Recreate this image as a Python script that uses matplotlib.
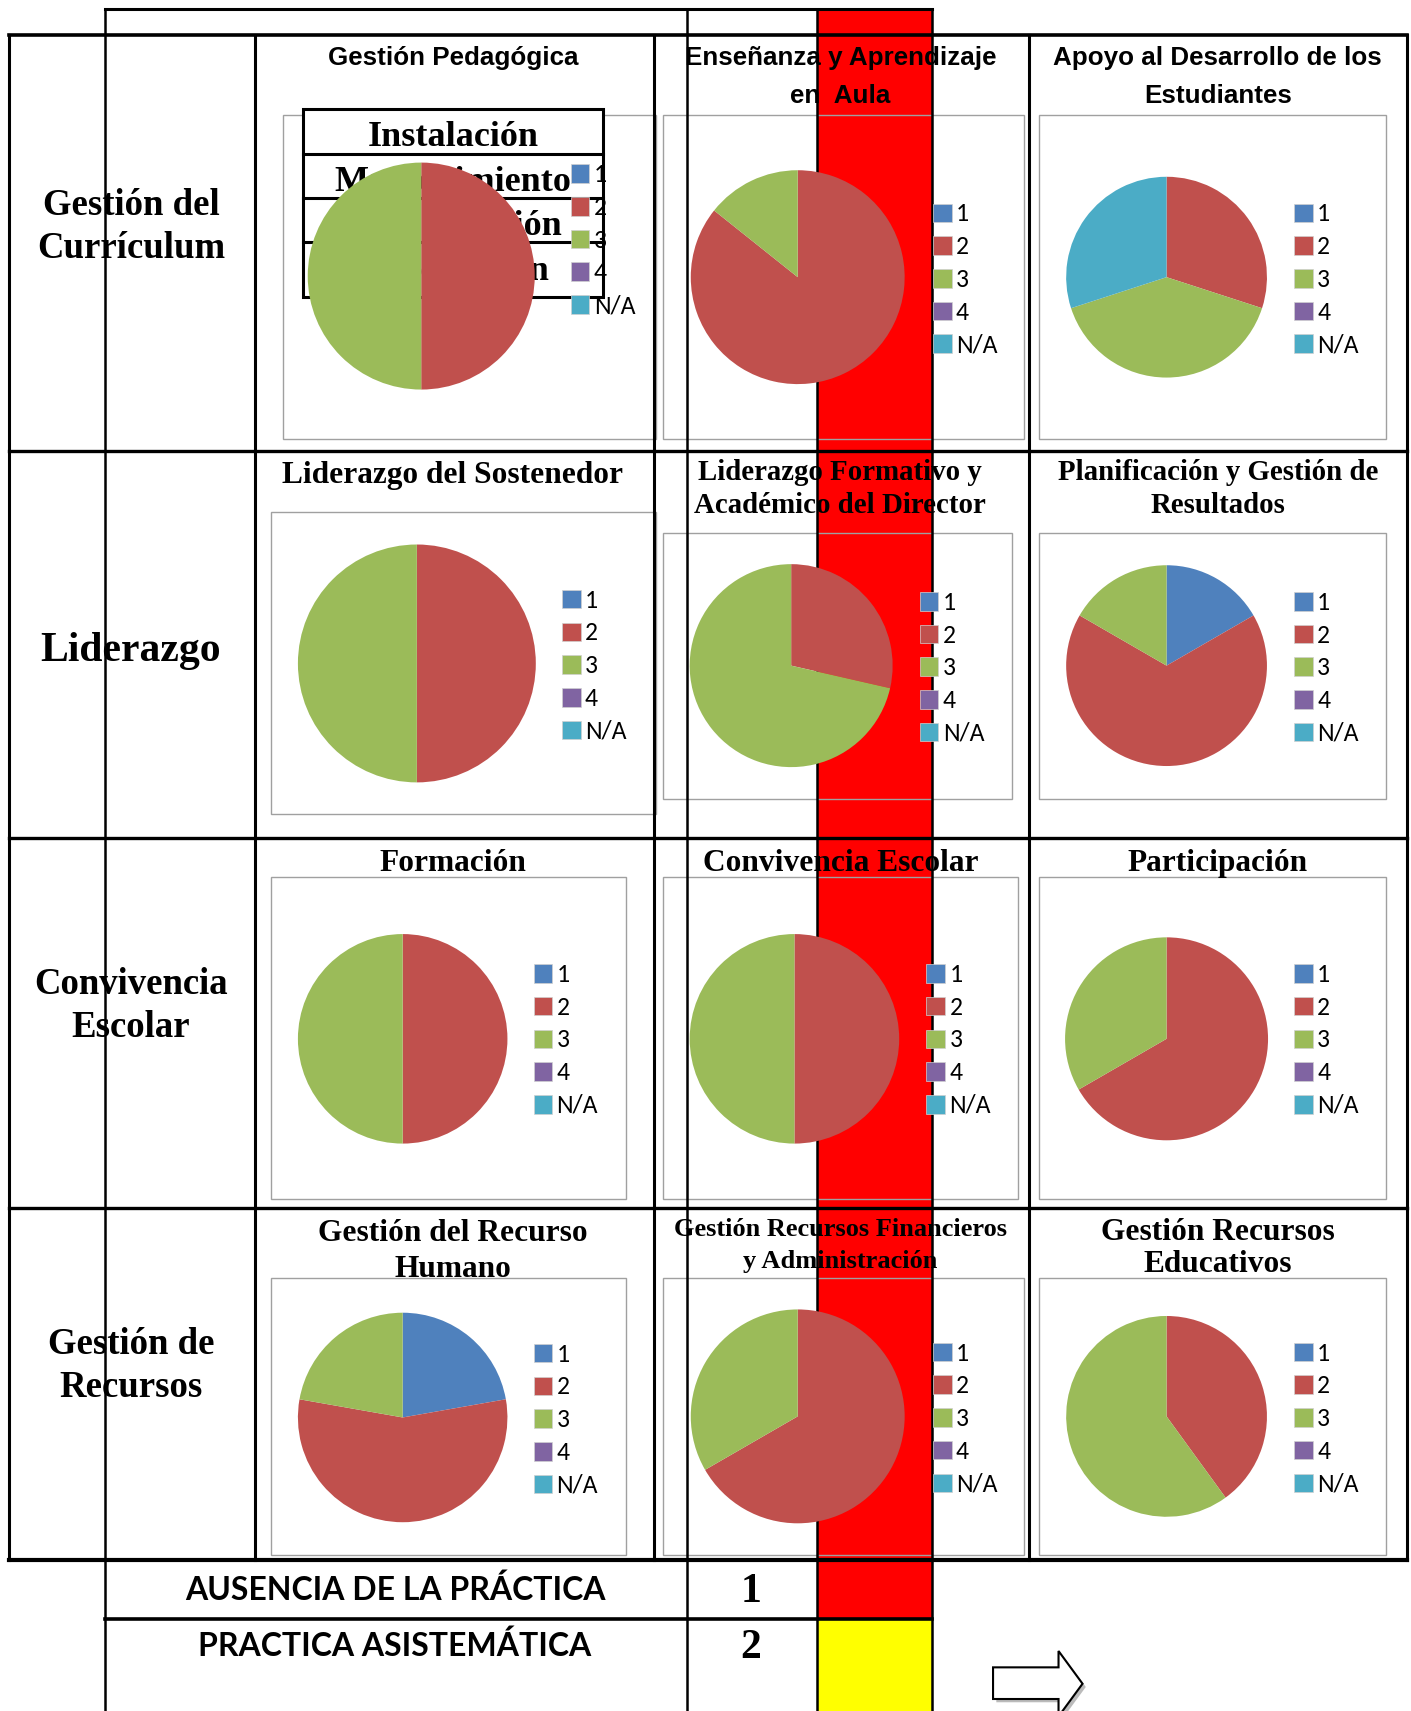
import matplotlib
matplotlib.use('Agg')
import matplotlib.pyplot as plt
from matplotlib.patches import Rectangle, Polygon
from matplotlib import font_manager

# ---------------- data ----------------
categories = ['1', '2', '3', '4', 'N/A']
colors = ['#4F81BD', '#C0504D', '#9BBB59', '#8064A2', '#4BACC6']

row_labels = ['Gestión del\nCurrículum', 'Liderazgo', 'Convivencia\nEscolar', 'Gestión de\nRecursos']

titles_row1 = ['Gestión Pedagógica', 'Enseñanza y Aprendizaje\nen  Aula', 'Apoyo al Desarrollo de los\nEstudiantes']
titles_row2 = ['Liderazgo del Sostenedor', 'Liderazgo Formativo y\nAcadémico del Director', 'Planificación y Gestión de\nResultados']
titles_row3 = ['Formación', 'Convivencia Escolar', 'Participación']
titles_row4 = ['Gestión del Recurso\nHumano', 'Gestión Recursos Financieros\ny Administración', 'Gestión Recursos\nEducativos']

# counts per level (1, 2, 3, 4, N/A)
gestion_pedagogica = [0, 1, 1, 0, 0]
ensenanza_aula = [0, 6, 1, 0, 0]
apoyo_estudiantes = [0, 3, 4, 0, 3]
liderazgo_sostenedor = [0, 1, 1, 0, 0]
liderazgo_director = [0, 2, 5, 0, 0]
planificacion = [1, 4, 1, 0, 0]
formacion = [0, 1, 1, 0, 0]
convivencia = [0, 1, 1, 0, 0]
participacion = [0, 2, 1, 0, 0]
recurso_humano = [2, 5, 2, 0, 0]
recursos_financieros = [0, 2, 1, 0, 0]
recursos_educativos = [0, 2, 3, 0, 0]

table_levels = ['Instalación', 'Mantenimiento', 'Consolidación', 'Articulación']
scale_labels = ['AUSENCIA DE LA PRÁCTICA', 'PRACTICA ASISTEMÁTICA']
scale_values = ['1', '2']

# ---------------- fonts ----------------
avail = {f.name for f in font_manager.fontManager.ttflist}
NARROW = 'Liberation Sans Narrow' if 'Liberation Sans Narrow' in avail else 'Liberation Sans'
SERIF = 'Liberation Serif'
LEG = 'Carlito' if 'Carlito' in avail else 'Lato'
NARROW_SIZE = 22 if NARROW == 'Liberation Sans Narrow' else 18.7

# ---------------- layout ----------------
W, H = 1293, 1568
fig = plt.figure(figsize=(14.11, 17.11), dpi=100)
bg = fig.add_axes([0, 0, 1, 1])
bg.set_xlim(0, W)
bg.set_ylim(H, 0)
bg.axis('off')

LW = 2.2
# red / yellow column
bg.add_patch(Rectangle((749, 8), 105, 1484 - 8, facecolor='#FF0000', edgecolor='none', zorder=1))
bg.add_patch(Rectangle((749, 1484), 105, H - 1484 + 5, facecolor='#FFFF00', edgecolor='none', zorder=1))

def hline(y, x0, x1, lw=LW):
    bg.plot([x0, x1], [y, y], color='black', lw=lw, zorder=3, solid_capstyle='projecting')

def vline(x, y0, y1, lw=LW):
    bg.plot([x, x], [y0, y1], color='black', lw=lw, zorder=3, solid_capstyle='projecting')

# back table lines
hline(8, 96, 854)
for x in [96, 630, 749, 854]:
    vline(x, 8, H + 5, lw=1.8)
hline(1484, 96, 854, lw=2.6)
# main grid
hline(32, 8, 1289, lw=2.6)
hline(1430, 8, 1289, lw=3.0)
for y in [413, 768, 1107]:
    hline(y, 8, 1289, lw=2.4)
for x in [8, 234, 599, 943, 1289]:
    vline(x, 32, 1430, lw=2.2)

# row labels
row_baselines = [[197, 236], [606], [911, 950], [1241, 1280]]
for lab, bls in zip(row_labels, row_baselines):
    size = 30 if len(bls) == 1 else 26.5
    for line, b in zip(lab.split('\n'), bls):
        bg.text(120, b, line, ha='center', va='baseline', fontsize=size,
                fontweight='bold', family=SERIF, zorder=5)

# charts
all_titles = [titles_row1, titles_row2, titles_row3, titles_row4]
all_values = [
    [gestion_pedagogica, ensenanza_aula, apoyo_estudiantes],
    [liderazgo_sostenedor, liderazgo_director, planificacion],
    [formacion, convivencia, participacion],
    [recurso_humano, recursos_financieros, recursos_educativos],
]
boxes = [
    [(259, 105, 601, 402), (608, 105, 938, 402), (952, 105, 1270, 402)],
    [(248, 469, 601, 746), (608, 488, 927, 732), (952, 488, 1270, 732)],
    [(248, 804, 574, 1099), (608, 804, 933, 1099), (952, 804, 1270, 1099)],
    [(248, 1171, 574, 1425), (608, 1171, 938, 1425), (952, 1171, 1270, 1425)],
]
pies = [
    [(386, 253, 104), (731, 254, 98), (1069, 254, 92)],
    [(382, 608, 109), (725, 610, 93), (1069, 610, 92)],
    [(369, 952, 96), (728, 952, 96), (1069, 952, 93)],
    [(369, 1299, 96), (731, 1298, 98), (1069, 1298, 92)],
]
legends = [
    [(523, 159), (855, 195), (1186, 195)],
    [(515, 549), (843, 551), (1186, 551)],
    [(489, 892), (849, 892), (1186, 892)],
    [(489, 1240), (855, 1239), (1186, 1239)],
]
title_x = [415, 770, 1116]
title_base = [
    [(60, 34), (60, 34), (60, 34)],
    [(443, 30), (440, 30), (440, 30)],
    [(798, 30), (798, 30), (798, 30)],
    [(1137, 33), (1133, 29), (1136, 30)],
]

# overlay table in first chart
tx0, tx1 = 278, 553
bg.add_patch(Rectangle((tx0, 100), tx1 - tx0, 272 - 100, facecolor='white',
                       edgecolor='black', lw=2.2, zorder=4))
for y in [141, 181, 222]:
    bg.plot([tx0, tx1], [y, y], color='black', lw=2.2, zorder=4)
for lvl, b in zip(table_levels, [134, 175, 215, 257]):
    bg.text(415, b, lvl, ha='center', va='baseline', fontsize=26, fontweight='bold',
            family=SERIF, zorder=4)

for r in range(4):
    for c in range(3):
        x0, y0, x1, y1 = boxes[r][c]
        bg.add_patch(Rectangle((x0, y0), x1 - x0, y1 - y0, facecolor='none',
                               edgecolor='#A0A0A0', lw=1.0, zorder=2))
        # title
        first, step = title_base[r][c]
        lines = all_titles[r][c].split('\n')
        if r == 0:
            fam, size = NARROW, NARROW_SIZE
        else:
            fam = SERIF
            size = 19 if (r == 3 and c == 1) else (20.8 if r == 1 and c > 0 else 22.6)
        for i, line in enumerate(lines):
            bg.text(title_x[c], first + i * step, line, ha='center', va='baseline',
                    fontsize=size, fontweight='bold', family=fam, zorder=6)
        # legend
        lx, ly = legends[r][c]
        for i, (cat, col) in enumerate(zip(categories, colors)):
            yy = ly + i * 30
            bg.add_patch(Rectangle((lx, yy - 8.5), 17, 17, facecolor=col,
                                   edgecolor='#D0D0D0', lw=0.5, zorder=7))
            bg.text(lx + 21, yy + 1, cat, ha='left', va='center', fontsize=18.5,
                    family=LEG, zorder=7)
        # pie
        cx, cy, rad = pies[r][c]
        ax = fig.add_axes([(cx - rad) / W, 1 - (cy + rad) / H, 2 * rad / W, 2 * rad / H])
        ax.pie(all_values[r][c], colors=colors, startangle=90, counterclock=False,
               wedgeprops=dict(linewidth=0))
        ax.set_aspect('auto')
        ax.set_xlim(-1, 1)
        ax.set_ylim(-1, 1)
        ax.axis('off')

# bottom scale rows
for lab, val, yc in zip(scale_labels, scale_values, [1457, 1508]):
    bg.text(362, yc, lab, ha='center', va='center', fontsize=23, fontweight='bold',
            family='Lato', zorder=5)
    bg.text(688, yc + 2, val, ha='center', va='center', fontsize=30, fontweight='bold',
            family=SERIF, zorder=5)

# outline arrow
arrow = [(910, 1528), (970, 1528), (970, 1513), (992, 1543), (970, 1573),
         (970, 1557), (910, 1557)]
bg.add_patch(Polygon([(x + 3, y + 3) for x, y in arrow], closed=True, facecolor='#BBBBBB',
                     edgecolor='none', zorder=4))
bg.add_patch(Polygon(arrow, closed=True, facecolor='white', edgecolor='black', lw=1.5, zorder=5))

fig.savefig('out.png', dpi=100)
